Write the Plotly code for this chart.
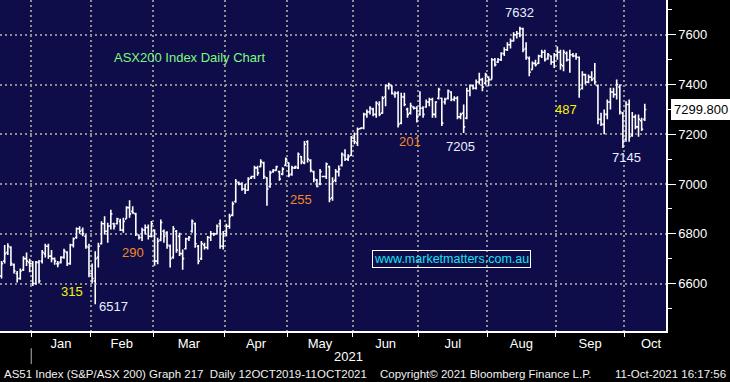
import plotly.graph_objects as go

# ---------------- data ----------------
MONTHS = ["Dec", "Jan", "Feb", "Mar", "Apr", "May", "Jun", "Jul", "Aug", "Sep", "Oct"]
BARS_PER_MONTH = [10, 19, 20, 23, 20, 21, 21, 22, 22, 22, 7]
YEAR_LABEL = "2021"

OPEN = [6630, 6690, 6725, 6745, 6675, 6640, 6620, 6655, 6700, 6685,
        6680, 6600, 6685, 6690, 6720, 6750, 6710, 6700, 6680, 6685,
        6705, 6725, 6680, 6755, 6785, 6820, 6815, 6790, 6745, 6640,
        6610, 6705, 6760, 6840, 6810, 6831, 6840, 6840, 6850, 6815,
        6860, 6905, 6890, 6880, 6795, 6785, 6815, 6825, 6790, 6815,
        6690, 6775, 6810, 6805, 6750, 6705, 6810, 6790, 6720, 6740,
        6780, 6810, 6840, 6750, 6700, 6755, 6745, 6785, 6800, 6800,
        6840, 6750, 6800, 6830, 6875, 6930, 7005, 7000, 6980, 6975,
        7025, 7030, 7065, 7070, 7085, 7025, 6990, 7050, 7055, 7050,
        7040, 7075, 7085, 7040, 7065, 7065, 7110, 7085, 7170, 7095,
        7050, 7015, 7000, 7030, 7030, 7070, 6945, 7015, 7050, 7075,
        7115, 7100, 7115, 7185, 7165, 7222, 7225, 7280, 7290, 7300,
        7280, 7320, 7285, 7350, 7395, 7395, 7360, 7365, 7245, 7350,
        7300, 7285, 7310, 7305, 7280, 7305, 7310, 7330, 7340, 7280,
        7345, 7345, 7330, 7345, 7370, 7340, 7345, 7270, 7285, 7265,
        7375, 7395, 7385, 7410, 7420, 7405, 7430, 7420, 7500, 7490,
        7500, 7525, 7540, 7560, 7575, 7600, 7605, 7625, 7545, 7505,
        7460, 7485, 7485, 7515, 7530, 7505, 7515, 7490, 7520, 7530,
        7475, 7525, 7500, 7520, 7515, 7510, 7385, 7440, 7410, 7430,
        7425, 7395, 7260, 7240, 7280, 7330, 7370, 7360, 7390, 7285,
        7180, 7320, 7195, 7270, 7230, 7255, 7260]
HIGH = [6690, 6755, 6762, 6750, 6680, 6650, 6660, 6710, 6725, 6700,
        6690, 6690, 6695, 6735, 6760, 6760, 6735, 6705, 6690, 6710,
        6740, 6730, 6760, 6785, 6825, 6830, 6825, 6797, 6760, 6680,
        6730, 6764, 6850, 6870, 6844, 6897, 6844, 6864, 6860, 6864,
        6911, 6935, 6911, 6884, 6797, 6824, 6837, 6837, 6851, 6817,
        6784, 6857, 6817, 6810, 6757, 6831, 6815, 6804, 6737, 6784,
        6791, 6857, 6845, 6755, 6771, 6764, 6791, 6811, 6804, 6837,
        6857, 6811, 6840, 6880, 6930, 7020, 7010, 7007, 7000, 7027,
        7033, 7073, 7073, 7100, 7090, 7027, 7053, 7060, 7073, 7053,
        7067, 7107, 7087, 7073, 7073, 7127, 7113, 7173, 7176, 7100,
        7053, 7020, 7060, 7033, 7087, 7073, 7027, 7060, 7075, 7127,
        7140, 7120, 7193, 7207, 7227, 7227, 7287, 7300, 7313, 7307,
        7333, 7333, 7353, 7400, 7407, 7397, 7373, 7373, 7367, 7367,
        7307, 7327, 7313, 7313, 7373, 7313, 7340, 7347, 7347, 7333,
        7387, 7347, 7347, 7380, 7373, 7353, 7353, 7287, 7320, 7387,
        7400, 7400, 7420, 7447, 7427, 7447, 7433, 7507, 7507, 7507,
        7530, 7550, 7570, 7585, 7610, 7615, 7632, 7628, 7570, 7513,
        7493, 7500, 7520, 7540, 7540, 7527, 7517, 7527, 7553, 7540,
        7540, 7533, 7540, 7527, 7527, 7513, 7453, 7443, 7440, 7453,
        7487, 7400, 7287, 7300, 7340, 7387, 7387, 7420, 7400, 7290,
        7333, 7340, 7290, 7280, 7280, 7267, 7323]
LOW = [6620, 6680, 6715, 6670, 6640, 6604, 6615, 6650, 6670, 6645,
       6590, 6595, 6600, 6680, 6705, 6700, 6685, 6675, 6665, 6680,
       6700, 6670, 6675, 6745, 6780, 6800, 6790, 6740, 6625, 6600,
       6517, 6664, 6757, 6797, 6764, 6817, 6817, 6837, 6811, 6804,
       6860, 6864, 6880, 6791, 6777, 6771, 6797, 6777, 6785, 6671,
       6677, 6770, 6764, 6740, 6664, 6700, 6724, 6711, 6655, 6737,
       6771, 6804, 6744, 6677, 6695, 6737, 6737, 6771, 6791, 6797,
       6740, 6737, 6790, 6820, 6870, 6925, 6995, 6973, 6960, 6973,
       7020, 7020, 7033, 7067, 7020, 6913, 6985, 7045, 7053, 7013,
       7035, 7073, 7027, 7033, 7060, 7060, 7080, 7080, 7087, 7047,
       7007, 6987, 6995, 7027, 7020, 6927, 6933, 7007, 7030, 7070,
       7093, 7093, 7113, 7160, 7153, 7220, 7220, 7267, 7280, 7273,
       7267, 7273, 7283, 7313, 7380, 7360, 7347, 7227, 7240, 7313,
       7267, 7280, 7300, 7247, 7275, 7267, 7307, 7313, 7267, 7267,
       7340, 7233, 7320, 7340, 7333, 7333, 7260, 7260, 7205, 7260,
       7353, 7380, 7380, 7400, 7373, 7400, 7393, 7420, 7473, 7487,
       7495, 7515, 7535, 7545, 7573, 7585, 7590, 7530, 7500, 7433,
       7460, 7473, 7483, 7507, 7493, 7500, 7480, 7467, 7500, 7460,
       7453, 7493, 7447, 7510, 7500, 7347, 7380, 7400, 7405, 7413,
       7400, 7240, 7233, 7200, 7260, 7300, 7347, 7340, 7280, 7145,
       7170, 7170, 7190, 7220, 7190, 7213, 7253]
CLOSE = [6680, 6720, 6750, 6680, 6650, 6620, 6650, 6700, 6690, 6680,
         6600, 6685, 6610, 6725, 6750, 6710, 6700, 6690, 6680, 6705,
         6730, 6680, 6755, 6780, 6820, 6810, 6800, 6750, 6640, 6620,
         6700, 6750, 6840, 6810, 6830, 6880, 6830, 6860, 6815, 6850,
         6905, 6880, 6884, 6800, 6785, 6815, 6825, 6790, 6840, 6690,
         6770, 6845, 6790, 6755, 6700, 6820, 6735, 6720, 6700, 6780,
         6785, 6850, 6760, 6690, 6760, 6745, 6785, 6800, 6800, 6830,
         6750, 6800, 6830, 6870, 6920, 7010, 7000, 6980, 6975, 7020,
         7030, 7065, 7045, 7090, 7030, 6980, 7045, 7055, 7070, 7020,
         7060, 7100, 7035, 7065, 7070, 7120, 7090, 7160, 7100, 7055,
         7020, 6990, 7050, 7030, 7080, 6940, 7010, 7050, 7060, 7120,
         7100, 7110, 7185, 7170, 7220, 7225, 7280, 7290, 7305, 7280,
         7325, 7280, 7345, 7395, 7400, 7365, 7365, 7240, 7350, 7320,
         7280, 7315, 7305, 7270, 7305, 7280, 7330, 7340, 7280, 7330,
         7380, 7245, 7340, 7375, 7340, 7345, 7270, 7280, 7230, 7375,
         7395, 7385, 7410, 7420, 7390, 7440, 7420, 7500, 7480, 7500,
         7525, 7540, 7560, 7575, 7600, 7605, 7625, 7540, 7510, 7450,
         7485, 7480, 7515, 7530, 7500, 7520, 7490, 7520, 7530, 7480,
         7530, 7500, 7520, 7515, 7510, 7380, 7440, 7410, 7430, 7420,
         7410, 7260, 7240, 7280, 7330, 7370, 7360, 7400, 7290, 7170,
         7320, 7190, 7270, 7230, 7260, 7220, 7299.8]

Y_TICKS = [6600, 6800, 7000, 7200, 7400, 7600]
Y_MINOR = [6500, 6700, 6900, 7100, 7300, 7500, 7700]

CHART_TITLE = "ASX200 Index Daily Chart"
WEBSITE = "www.marketmatters.com.au"
NOTE_TEXT = ["7632", "201", "7205", "487", "7145", "315", "6517", "290", "255"]
NOTE_BAR = [166, 130.8, 147.1, 180.7, 200.3, 22.6, 35.7, 42.1, 95.9]
NOTE_VALUE = [7688, 7172, 7152, 7300, 7108, 6568, 6508, 6724, 6936]
NOTE_COLOR = ["#e8f0ff", "#f08a24", "#e8f0ff", "#f5f500", "#e8f0ff",
              "#f5f500", "#e8f0ff", "#f08a24", "#f08a24"]
FOOTER_LEFT = "AS51 Index (S&P/ASX 200) Graph 217  Daily 12OCT2019-11OCT2021"
FOOTER_MID = "Copyright\u00a9 2021 Bloomberg Finance L.P."
FOOTER_RIGHT = "11-Oct-2021 16:17:56"

# ---------------- derived ----------------
x = list(range(len(CLOSE)))
starts = []
s = 0
for n in BARS_PER_MONTH:
    starts.append(s)
    s += n
boundaries = [st - 0.5 for st in starts[1:]]
X_MIN, X_MAX = -0.5, 212.8
label_pos, label_txt = [], []
for i in range(1, len(MONTHS)):
    if i < len(MONTHS) - 1:
        label_pos.append(starts[i] + (BARS_PER_MONTH[i] - 1) / 2)
    else:
        label_pos.append(boundaries[-1] + 8.5)
    label_txt.append(MONTHS[i])

NAVY = "#0f0c4a"
GRID = "#8e8e8e"
FONT = "Arial, Liberation Sans, sans-serif"

fig = go.Figure()
fig.add_trace(go.Ohlc(
    x=x, open=OPEN, high=HIGH, low=LOW, close=CLOSE,
    increasing=dict(line=dict(color="white", width=1.6)),
    decreasing=dict(line=dict(color="white", width=1.6)),
    line=dict(width=1.6), tickwidth=0.5,
    hoverinfo="skip", showlegend=False))

# right-axis tick arrow heads
fig.add_trace(go.Scatter(
    x=[X_MAX + 1.5] * len(Y_TICKS), y=Y_TICKS, mode="markers",
    marker=dict(symbol="triangle-right", size=7, color="white"),
    cliponaxis=False, hoverinfo="skip", showlegend=False))
# last price pointer
fig.add_trace(go.Scatter(
    x=[X_MAX + 1.3], y=[CLOSE[-1]], mode="markers",
    marker=dict(symbol="triangle-left", size=13, color="white"),
    cliponaxis=False, hoverinfo="skip", showlegend=False))

annotations = []
for t, bx, v, c in zip(NOTE_TEXT, NOTE_BAR, NOTE_VALUE, NOTE_COLOR):
    annotations.append(dict(x=bx, y=v, xref="x", yref="y", text=t, showarrow=False,
                            font=dict(family=FONT, size=13, color=c)))
annotations.append(dict(x=60.3, y=7508, xref="x", yref="y", text=CHART_TITLE,
                        showarrow=False, font=dict(family=FONT, size=13, color="#7dfa7d")))
annotations.append(dict(x=144.2, y=6700, xref="x", yref="y", text=WEBSITE,
                        showarrow=False, bordercolor="white", borderwidth=1, borderpad=1,
                        font=dict(family=FONT, size=12.5, color="#19e3f2")))
annotations.append(dict(x=1.0, xref="paper", xanchor="left", xshift=5,
                        y=CLOSE[-1], yref="y", yanchor="middle", text=f"{CLOSE[-1]:.3f}",
                        showarrow=False, bgcolor="white", bordercolor="white", borderpad=2,
                        font=dict(family=FONT, size=13, color="black")))
annotations.append(dict(x=(boundaries[0] + X_MAX) / 2, xref="x", xanchor="center",
                        y=-0.077, yref="paper", yanchor="middle",
                        text=YEAR_LABEL, showarrow=False,
                        font=dict(family=FONT, size=13, color="white")))
foot_y = -0.131
annotations.append(dict(x=2 / 666, xref="paper", xanchor="left", y=foot_y, yref="paper",
                        yanchor="middle", text=FOOTER_LEFT, showarrow=False,
                        font=dict(family=FONT, size=11.5, color="#f0f0f0")))
annotations.append(dict(x=378 / 666, xref="paper", xanchor="left", y=foot_y, yref="paper",
                        yanchor="middle", text=FOOTER_MID, showarrow=False,
                        font=dict(family=FONT, size=11.5, color="#f0f0f0")))
annotations.append(dict(x=728 / 666, xref="paper", xanchor="right", y=foot_y, yref="paper",
                        yanchor="middle", text=FOOTER_RIGHT, showarrow=False,
                        font=dict(family=FONT, size=11.5, color="#f0f0f0")))

shapes = [dict(type="line", xref="x", yref="paper", x0=boundaries[0], x1=boundaries[0],
               y0=-0.052, y1=-0.10, line=dict(color="#b4b4b4", width=1))]

fig.update_layout(
    width=730, height=382,
    margin=dict(l=0, r=64, t=0, b=51),
    paper_bgcolor="black", plot_bgcolor=NAVY,
    hovermode=False, showlegend=False,
    annotations=annotations, shapes=shapes,
    xaxis=dict(
        range=[X_MIN, X_MAX], rangeslider=dict(visible=False),
        tickmode="array", tickvals=label_pos, ticktext=label_txt,
        ticks="", showgrid=False, zeroline=False,
        showline=True, linecolor="white", linewidth=1.5,
        tickfont=dict(family=FONT, size=13, color="white"),
        minor=dict(tickmode="array", tickvals=boundaries, ticks="outside", ticklen=4,
                   tickcolor="white", tickwidth=1, showgrid=True, gridcolor=GRID,
                   gridwidth=2, griddash="2px,3px"),
    ),
    yaxis=dict(
        side="right", range=[6409, 7740],
        tickmode="array", tickvals=Y_TICKS, ticks="outside", ticklen=8,
        tickcolor="white", tickwidth=1,
        showgrid=True, gridcolor=GRID, gridwidth=2, griddash="2px,3px",
        zeroline=False, showline=True, linecolor="white", linewidth=1.5,
        tickfont=dict(family=FONT, size=13, color="white"),
        minor=dict(tickmode="array", tickvals=Y_MINOR, ticks="outside", ticklen=4,
                   tickcolor="white", showgrid=False),
    ),
)

fig.write_html("out.html", config={"displayModeBar": False},
               post_script="document.body.style.margin='0px';document.body.style.background='black';")
